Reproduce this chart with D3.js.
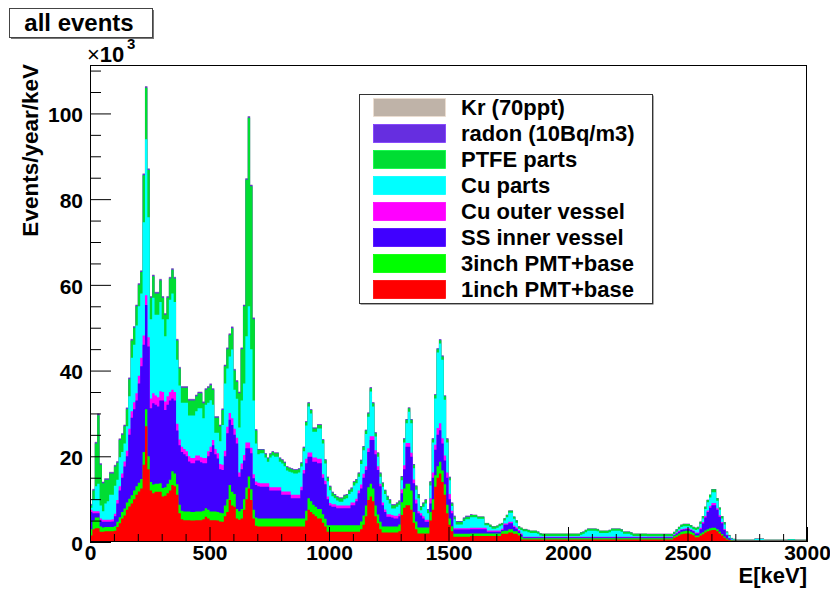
<!DOCTYPE html>
<html><head><meta charset="utf-8">
<script src="https://cdn.jsdelivr.net/npm/d3@7"></script>
<style>
body{margin:0;background:#fff}
text{font-family:"Liberation Sans",Arial,Helvetica,sans-serif;font-weight:bold;fill:#000}
</style>
</head><body>
<svg id="chart" width="830" height="589"></svg>
<script>
// ---------- DATA (Events/year/keV, in units of 10^3), 10 keV bins from 0 to 3000 keV ----------
const binWidthKeV = 10;
const pmt1 = [
1.5,3,3.2,3.2,2.4,2.4,2.5,2.5,2.5,2.5,
2.6,3.5,4.4,5.5,6.2,7.5,8.3,9,10,11,
11.8,12.5,18,27,17,12,11.4,11.7,11.7,11.7,
10.6,10.8,11.4,12,13.3,13,11,6.7,5.3,5.1,
5.1,5.1,5,5,5.1,5.1,5.1,5.3,5.9,5.5,
5.1,5.1,5.1,5,4.8,4.7,6,7,9.8,8.5,
8.2,5.5,5.2,5.5,7.5,10,12.5,9.8,5.5,3.8,
3.6,3.6,3.6,3.6,3.6,3.6,3.6,3.6,3.6,3.6,
3.6,3.6,3.6,3.6,3.6,3.6,3.6,3.6,3.6,3.6,
5,7.5,7,6.5,6,5.5,5.5,4.5,3.6,2.4,
2.4,2.4,2.4,2.4,2.4,2.4,2.4,2.4,2.4,2.4,
2.4,2.4,2.4,3,4,6,9.8,10.6,9.5,6,
4.4,3,2.2,2.2,2.2,2.2,2.2,2.2,2.2,2.5,
6.3,8,8.6,8.6,7.5,4.5,3,2,2,2,
2,2,5,7.5,12.9,15,16,14,11,6.7,
4,2.5,1.2,1.2,1.2,1.2,1.2,1.2,1.2,1.4,
1.4,1.4,1.4,1.4,1.4,1.4,1.4,1.4,1.4,1.4,
1.4,1.4,1.9,1.9,1.9,2.2,2.2,1.9,1.9,1.5,
0.6,0.6,0.6,0.6,0.6,0.6,0.6,0.6,0.6,0.6,
0.6,0.6,0.6,0.6,0.6,0.6,0.6,0.6,0.6,0.6,
0.6,0.6,0.6,0.6,0.6,0.6,0.6,0.6,0.6,0.6,
0.6,0.6,0.6,0.6,0.6,0.6,0.6,0.6,0.6,0.6,
0.6,0.6,0.6,0.6,0.6,0.6,0.6,0.6,0.6,0.6,
0.6,0.6,0.6,0.6,0.6,0.6,0.6,0.6,0.6,0.6,
0.6,0.6,0.6,0.6,1,1.2,1.5,1.8,1.9,2,
2,1.8,1.6,1.1,1.1,1.5,1.8,2.2,2.5,2.7,
2.8,2.8,2.5,2,1.5,1,0.6,0.4,0.3,0.3,
0.3,0.3,0.3,0.3,0.3,0.3,0.3,0.3,0.3,0.3,
0.3,0.3,0.3,0.3,0.3,0.3,0.3,0.3,0.3,0.3,
0.3,0.3,0.3,0.3,0.3,0.3,0.3,0.3,0.3,0.3];
const pmt3 = [
1.5,2,2.5,2.5,1.2,1,1,1,1,1,
1.1,1.2,1.4,1.5,1.6,1.7,1.8,1.9,2,2,
2,2.2,3,4,3,2,2,1.9,1.9,2,
2,2,2.2,2.5,3.2,3,2.5,2,2,2,
2,2,2,2,2,2,2,2,2,2,
2,2,2,2,2,2,2.5,3,3.5,3.2,
3,2.2,2,2.2,2.5,2.7,2.8,2.5,2,1.9,
1.9,1.9,1.9,1.9,1.9,1.9,1.9,1.9,1.9,1.9,
1.9,1.9,1.9,1.9,1.9,1.9,1.9,1.9,1.9,1.9,
2.3,2.7,2.5,2.2,2.2,2.2,2.2,2,1.8,1.5,
1.5,1.5,1.5,1.5,1.5,1.5,1.5,1.5,1.5,1.5,
1.5,1.5,1.5,1.8,2.2,2.5,3,3,3,2.5,
2,1.7,1.4,1.4,1.4,1.4,1.4,1.4,1.4,1.6,
3,4.5,5,5,4.5,2.5,1.8,1.4,1.4,1.4,
1.4,1.4,2,2.5,2.7,2.7,2.7,2.7,2.5,2,
1.5,1.2,0.7,0.7,0.7,0.7,0.7,0.7,0.7,0.6,
0.6,0.6,0.6,0.6,0.6,0.6,0.6,0.6,0.6,0.6,
0.6,0.6,0.6,0.7,0.7,0.8,0.8,0.6,0.6,0.6,
0.6,0.3,0.3,0.3,0.3,0.3,0.3,0.3,0.3,0.3,
0.3,0.3,0.3,0.3,0.3,0.3,0.3,0.3,0.3,0.3,
0.3,0.3,0.3,0.3,0.3,0.3,0.3,0.3,0.3,0.3,
0.3,0.3,0.3,0.3,0.3,0.3,0.3,0.3,0.3,0.3,
0.3,0.3,0.3,0.3,0.3,0.3,0.3,0.3,0.3,0.3,
0.3,0.3,0.3,0.3,0.3,0.3,0.3,0.3,0.3,0.3,
0.3,0.3,0.3,0.3,0.4,0.5,0.5,0.6,0.6,0.6,
0.6,0.6,0.5,0.4,0.4,0.5,0.5,0.5,0.5,0.5,
0.5,0.5,0.5,0.4,0.35,0.3,0.2,0.1,0.1,0.05,
0.05,0.05,0.05,0.05,0.05,0.05,0.05,0.05,0.05,0.05,
0.05,0.05,0.05,0.05,0.05,0.05,0.05,0.05,0.05,0.05,
0.05,0.05,0.05,0.05,0.05,0.05,0.05,0.05,0.05,0.05];
const ssInner = [
4,1.7,1,1,1.4,1.3,1.2,1.2,1.2,1.3,
2.3,4.3,6.2,8,9.8,10.8,14.9,18.1,19,20,
23.2,26.3,25,24.3,25.6,17.2,19,18.4,18,19.3,
20.4,18,18.4,18.5,17,17,12.5,13.9,13.7,13.4,
12.9,11.7,11.4,11.4,11.9,11.9,11.5,11.1,10.5,12.5,
13.9,15.5,13.4,12.5,10.2,10.1,11.5,15.4,15.2,15.6,
13.8,15.3,8,9.3,9,9.2,6.6,8.4,7.4,7.6,
7.5,7.4,7.4,7.4,7.4,6.5,6.5,6.5,6.5,6.5,
5.5,5.5,5.5,5.5,4.7,4.7,4.7,4.7,6.6,10.5,
11.1,9.7,10.4,10,10.5,10.7,10.7,8.5,8.1,6.1,
4.6,4.3,4.3,4,4,4,4,4,4,4.7,
4.7,5.6,7.5,7.7,8.8,8.3,8.2,10.2,11.3,12,
10.4,8.3,5,3.4,2.3,2.3,2.1,1.9,1.9,1.9,
2.1,4.5,8.6,8.6,7.9,6.7,4.2,3.3,2.8,2.1,
1.3,1.3,2,5,5.9,7.3,7.4,6.3,5.5,6.3,
4.5,3,1,1,1,1,1,1,1,1,
1,1,1,1,1,1,0.4,0.4,0.4,0.4,
0.4,0.4,0.3,1.4,1.4,1.4,1.4,1,0.6,0.4,
0.5,0.2,0.2,0.2,0.2,0.2,0.2,0.2,0.2,0.2,
0.2,0.2,0.2,0.2,0.2,0.2,0.2,0.2,0.2,0.2,
0.2,0.2,0.2,0.2,0.2,0.2,0.2,0.2,0.2,0.2,
0.2,0.2,0.2,0.2,0.2,0.2,0.2,0.2,0.2,0.2,
0.2,0.2,0.2,0.2,0.2,0.2,0.2,0.2,0.2,0.2,
0.2,0.2,0.2,0.2,0.2,0.2,0.2,0.2,0.2,0.2,
0.2,0.2,0.2,0.2,0.2,0.3,0.4,0.4,0.4,0.4,
0.4,0.4,0.4,0.5,0.5,1,2,3,4,4.8,
5.3,5.3,4.5,3.5,2.5,1.5,0.8,0.4,0.1,0.05,
0.03,0.03,0.03,0.03,0.03,0.03,0.03,0.03,0.03,0.03,
0.03,0.03,0.03,0.03,0.03,0.03,0.03,0.03,0.03,0.03,
0.03,0.03,0.03,0.03,0.03,0.03,0.03,0.03,0.03,0.03];
const cuOuter = [
0.5,0.5,0.5,0.5,0.5,0.5,0.5,0.5,0.5,0.5,
0.6,0.8,1,1,1.2,1.3,1.4,1.5,1.6,1.7,
1.8,2,2.2,2.3,2.2,2.3,2.3,2.2,2.2,2.2,
2,2,2,2,2,2,1.6,1.3,1.2,1.2,
1.2,1.2,1.2,1.2,1.2,1.2,1.2,1.2,1.2,1.2,
1.2,1.2,1.2,1.2,1.2,1.2,1.3,1.5,1.6,1.6,
1.4,1.3,1,1.3,1.3,1.3,1.3,1.3,0.9,0.8,
0.8,0.8,0.8,0.8,0.8,0.8,0.8,0.8,0.8,0.8,
0.8,0.8,0.8,0.8,0.8,0.8,0.8,0.8,0.8,0.8,
1,1,1,1,1,1,1,0.8,0.8,0.6,
0.6,0.6,0.6,0.6,0.6,0.6,0.6,0.6,0.6,0.6,
0.6,0.6,0.6,0.9,0.9,0.9,0.9,0.9,0.9,0.9,
0.9,0.6,0.6,0.6,0.6,0.6,0.6,0.6,0.6,0.6,
0.9,0.9,0.9,0.9,0.9,0.9,0.9,0.5,0.5,0.5,
0.5,0.5,1.2,1.2,1.2,1.6,1.6,1.2,1.2,1.2,
1.2,0.6,0.3,0.3,0.3,0.3,0.3,0.3,0.3,0.3,
0.3,0.3,0.3,0.3,0.3,0.3,0.3,0.3,0.3,0.3,
0.3,0.3,0.3,0.3,0.3,0.3,0.3,0.3,0.3,0.3,
0.3,0.15,0.15,0.15,0.15,0.15,0.15,0.15,0.15,0.15,
0.15,0.15,0.15,0.15,0.15,0.15,0.15,0.15,0.15,0.15,
0.15,0.15,0.15,0.15,0.15,0.15,0.15,0.15,0.15,0.15,
0.15,0.15,0.15,0.15,0.15,0.15,0.15,0.15,0.15,0.15,
0.15,0.15,0.15,0.15,0.15,0.15,0.15,0.15,0.15,0.15,
0.15,0.15,0.15,0.15,0.15,0.15,0.15,0.15,0.15,0.15,
0.15,0.15,0.15,0.15,0.15,0.2,0.2,0.2,0.2,0.2,
0.2,0.2,0.2,0.2,0.2,0.3,0.35,0.35,0.35,0.4,
0.5,0.5,0.4,0.35,0.3,0.25,0.1,0.05,0.05,0.02,
0.02,0.02,0.02,0.02,0.02,0.02,0.02,0.02,0.02,0.02,
0.02,0.02,0.02,0.02,0.02,0.02,0.02,0.02,0.02,0.02,
0.02,0.02,0.02,0.02,0.02,0.02,0.02,0.02,0.02,0.02];
const cuParts = [
0.5,2.8,5.8,6.4,3,2,3.8,4.3,5.8,5.7,
6.5,4.7,6.8,5,4.2,5.7,7.6,12.5,13.4,15.8,
16.2,15,26.4,36.4,28,18.5,22.3,18.8,19.2,20.8,
17,15.2,18,21.5,22.5,21,14.9,12.6,10.3,10.8,
11.3,9.5,9.9,9.9,10.3,11,11.4,9.3,12.4,11.3,
10.9,8.2,3.8,4.8,5.3,9.3,15.7,13.6,13.2,16,
9.1,9.1,10.5,14.7,16.7,24.8,31.8,23,17.2,8.9,
6.7,7,7,6,5,6.9,7.4,7.1,7.1,5.9,
6.5,5.9,4.9,4.6,5.2,5,5,5.2,4.7,4.4,
7.8,10.7,9.1,6,6,7.1,7.1,7.2,4,3.6,
3,1.9,1.4,1.2,0.9,0.9,1.5,1.7,2.7,2.5,
4,3.6,3.2,4.8,5.5,7.5,7.3,10.4,6.9,3.2,
2.2,1.6,3.7,3.6,3.3,2.5,1.5,1.7,2.1,2.1,
2.1,5.3,4.6,7.3,6.9,2.6,2.3,3,0.7,2.2,
3.8,1.5,3,7,10.8,17.6,18.6,18.3,13,7,
3.2,1.1,2.1,0.9,0.9,0.9,1.7,2.1,2.1,2.5,
2.5,2.5,2.1,2.1,2.1,0.6,1.2,0.8,0.4,0.4,
0.6,1,0.8,0.7,1.5,2.1,2.1,1.6,1.1,0.3,
0.8,1.25,1.25,1.05,0.85,0.85,0.85,0.65,0.25,0.15,
0.15,0.15,0.15,0.15,0.15,0.15,0.15,0.15,0.15,0.15,
0.15,0.15,0.15,0.15,0.15,0.45,0.65,1.05,1.35,1.35,
1.35,1.35,1.25,0.85,0.85,0.85,0.85,1.05,1.35,1.35,
1.35,1.35,1.15,0.65,0.65,0.65,0.45,0.15,0.15,0.15,
0.15,0.15,0.15,0.1,0.1,0.1,0.1,0.1,0.1,0.1,
0.1,0.1,0.1,0.1,0.1,0.2,0.4,0.5,0.6,0.5,
0.5,0.4,0.3,0.6,0.8,0.9,0.85,1.65,1.95,2,
2.5,2.5,1.7,1.25,0.85,1.05,0.5,0.45,0.2,0.18,
0.05,0.05,0.05,0.05,0.05,0.05,0.05,0.05,0.3,0.3,
0.3,0.3,0.05,0.05,0.05,0.05,0.05,0.05,0.05,0.05,
0.05,0.05,0.2,0.2,0.2,0.05,0.05,0.05,0.05,0.05];
const ptfe = [
0.5,2,10,16,9.5,6.5,5.5,5,5,5,
4.5,4,4,4,4,4,4,4,4,4.5,
5,5,11,12,11,5,5,5,5,5,
5,5,5,5,5.5,5.5,4.5,4,3.5,3.5,
3.5,3.5,3.5,3.5,3.5,3.5,3.5,3.5,3.5,3.5,
3.5,3.5,3.5,3.5,3.5,3.5,4,4.5,5,5,
4.5,4,8,12,18,36.5,44,38,19,3,
1,0.8,0.8,0.8,0.8,0.8,0.8,0.8,0.8,0.8,
0.8,0.8,0.8,0.8,0.8,0.8,0.8,0.8,0.8,0.8,
0.8,0.8,0.8,0.8,0.8,0.8,0.8,0.8,0.8,0.8,
0.8,0.8,0.8,0.8,0.8,0.8,0.8,0.8,0.8,0.8,
0.8,0.8,0.8,0.8,0.8,0.8,0.8,0.8,0.8,0.8,
0.8,0.8,0.8,0.8,0.8,0.8,0.8,0.8,0.8,0.8,
0.8,0.8,0.8,0.8,0.8,0.8,0.8,0.8,0.8,0.8,
0.8,0.8,0.8,0.8,0.8,0.8,0.8,0.8,0.8,0.8,
0.6,0.6,0.6,0.6,0.6,0.6,0.6,0.6,0.6,0.5,
0.5,0.5,0.5,0.5,0.5,0.5,0.5,0.5,0.5,0.5,
0.5,0.5,0.5,0.5,0.5,0.5,0.5,0.5,0.5,0.5,
0.5,0.5,0.5,0.5,0.5,0.5,0.5,0.5,0.5,0.5,
0.5,0.5,0.5,0.5,0.5,0.5,0.5,0.5,0.5,0.5,
0.5,0.5,0.5,0.5,0.5,0.5,0.5,0.5,0.5,0.5,
0.5,0.5,0.5,0.5,0.5,0.5,0.5,0.5,0.5,0.5,
0.5,0.5,0.5,0.5,0.5,0.5,0.5,0.5,0.5,0.5,
0.5,0.5,0.5,0.5,0.5,0.5,0.5,0.5,0.5,0.5,
0.5,0.5,0.5,0.5,0.5,0.5,0.5,0.5,0.5,0.5,
0.5,0.5,0.5,0.5,0.5,0.5,0.5,0.5,0.5,0.6,
0.7,0.7,0.6,0.5,0.5,0.5,0.2,0.2,0.15,0.1,
0.05,0.05,0.05,0.05,0.05,0.05,0.05,0.05,0.05,0.05,
0.05,0.05,0.05,0.05,0.05,0.05,0.05,0.05,0.05,0.05,
0.05,0.05,0.05,0.05,0.05,0.05,0.05,0.05,0.05,0.05];
const radon = [
0.3,0.3,0.3,0.3,0.3,0.3,0.3,0.3,0.3,0.3,
0.3,0.3,0.3,0.3,0.3,0.3,0.3,0.3,0.3,0.3,
0.3,0.3,0.3,0.3,0.3,0.3,0.3,0.3,0.3,0.3,
0.3,0.3,0.3,0.3,0.3,0.3,0.3,0.3,0.3,0.3,
0.3,0.3,0.3,0.3,0.3,0.3,0.3,0.3,0.3,0.3,
0.3,0.3,0.3,0.3,0.3,0.3,0.3,0.3,0.3,0.3,
0.3,0.3,0.3,0.3,0.3,0.3,0.3,0.3,0.3,0.3,
0.2,0.2,0.2,0.2,0.2,0.2,0.2,0.2,0.2,0.2,
0.2,0.2,0.2,0.2,0.2,0.2,0.2,0.2,0.2,0.2,
0.2,0.2,0.2,0.2,0.2,0.2,0.2,0.2,0.2,0.2,
0.2,0.2,0.2,0.2,0.2,0.2,0.2,0.2,0.2,0.2,
0.2,0.2,0.2,0.2,0.2,0.2,0.2,0.2,0.2,0.2,
0.2,0.2,0.2,0.2,0.2,0.2,0.2,0.2,0.2,0.2,
0.2,0.2,0.2,0.2,0.2,0.2,0.2,0.2,0.2,0.2,
0.2,0.2,0.2,0.2,0.2,0.2,0.2,0.2,0.2,0.2,
0.2,0.2,0.2,0.2,0.2,0.2,0.2,0.2,0.2,0.2,
0.05,0.05,0.05,0.05,0.05,0.05,0.05,0.05,0.05,0.05,
0.05,0.05,0.05,0.05,0.05,0.05,0.05,0.05,0.05,0.05,
0.05,0.05,0.05,0.05,0.05,0.05,0.05,0.05,0.05,0.05,
0.05,0.05,0.05,0.05,0.05,0.05,0.05,0.05,0.05,0.05,
0.05,0.05,0.05,0.05,0.05,0.05,0.05,0.05,0.05,0.05,
0.05,0.05,0.05,0.05,0.05,0.05,0.05,0.05,0.05,0.05,
0.05,0.05,0.05,0.05,0.05,0.05,0.05,0.05,0.05,0.05,
0.05,0.05,0.05,0.05,0.05,0.05,0.05,0.05,0.05,0.05,
0.05,0.05,0.05,0.05,0.05,0.05,0.05,0.05,0.05,0.05,
0.05,0.05,0.05,0.05,0.05,0.05,0.05,0.05,0.05,0.05,
0.05,0.05,0.05,0.05,0.05,0.05,0.05,0.05,0.05,0.05,
0.05,0.05,0.05,0.05,0.05,0.05,0.05,0.05,0.05,0.05,
0.05,0.05,0.05,0.05,0.05,0.05,0.05,0.05,0.05,0.05,
0.05,0.05,0.05,0.05,0.05,0.05,0.05,0.05,0.05,0.05];
const kr = [
0.1,0.1,0.1,0.1,0.1,0.1,0.1,0.1,0.1,0.1,
0.1,0.1,0.1,0.1,0.1,0.1,0.1,0.1,0.1,0.1,
0.1,0.1,0.1,0.1,0.1,0.1,0.1,0.1,0.1,0.1,
0.1,0.1,0.1,0.1,0.1,0.1,0.1,0.1,0.1,0.1,
0.1,0.1,0.1,0.1,0.1,0.1,0.1,0.1,0.1,0.1,
0.1,0.1,0.1,0.1,0.1,0.1,0.1,0.1,0.1,0.1,
0.1,0.1,0.1,0.1,0.1,0.1,0.1,0.1,0.1,0.02,
0.02,0.02,0.02,0.02,0.02,0.02,0.02,0.02,0.02,0.02,
0.02,0.02,0.02,0.02,0.02,0.02,0.02,0.02,0.02,0.02,
0.02,0.02,0.02,0.02,0.02,0.02,0.02,0.02,0.02,0.02,
0.02,0.02,0.02,0.02,0.02,0.02,0.02,0.02,0.02,0.02,
0.02,0.02,0.02,0.02,0.02,0.02,0.02,0.02,0.02,0.02,
0.02,0.02,0.02,0.02,0.02,0.02,0.02,0.02,0.02,0.02,
0.02,0.02,0.02,0.02,0.02,0.02,0.02,0.02,0.02,0.02,
0.02,0.02,0.02,0.02,0.02,0.02,0.02,0.02,0.02,0.02,
0.02,0.02,0.02,0.02,0.02,0.02,0.02,0.02,0.02,0.02,
0.02,0.02,0.02,0.02,0.02,0.02,0.02,0.02,0.02,0.02,
0.02,0.02,0.02,0.02,0.02,0.02,0.02,0.02,0.02,0.02,
0.02,0.02,0.02,0.02,0.02,0.02,0.02,0.02,0.02,0.02,
0.02,0.02,0.02,0.02,0.02,0.02,0.02,0.02,0.02,0.02,
0.02,0.02,0.02,0.02,0.02,0.02,0.02,0.02,0.02,0.02,
0.02,0.02,0.02,0.02,0.02,0.02,0.02,0.02,0.02,0.02,
0.02,0.02,0.02,0.02,0.02,0.02,0.02,0.02,0.02,0.02,
0.02,0.02,0.02,0.02,0.02,0.02,0.02,0.02,0.02,0.02,
0.02,0.02,0.02,0.02,0.02,0.02,0.02,0.02,0.02,0.02,
0.02,0.02,0.02,0.02,0.02,0.02,0.02,0.02,0.02,0.02,
0.02,0.02,0.02,0.02,0.02,0.02,0.02,0.02,0.02,0.02,
0.02,0.02,0.02,0.02,0.02,0.02,0.02,0.02,0.02,0.02,
0.02,0.02,0.02,0.02,0.02,0.02,0.02,0.02,0.02,0.02,
0.02,0.02,0.02,0.02,0.02,0.02,0.02,0.02,0.02,0.02];

// stacking order, bottom to top
const seriesKeys = ["pmt1","pmt3","ssInner","cuOuter","cuParts","ptfe","radon","kr"];
const seriesData = {pmt1, pmt3, ssInner, cuOuter, cuParts, ptfe, radon, kr};
const seriesLabels = {pmt1:"1inch PMT+base", pmt3:"3inch PMT+base", ssInner:"SS inner vessel",
  cuOuter:"Cu outer vessel", cuParts:"Cu parts", ptfe:"PTFE parts", radon:"radon (10Bq/m3)", kr:"Kr (70ppt)"};
const seriesColors = {pmt1:"#ff0000", pmt3:"#00ff00", ssInner:"#4000ff", cuOuter:"#ff00ff",
  cuParts:"#00ffff", ptfe:"#00dd33", radon:"#662ee0", kr:"#bfb3a8"};
const legendOrder = ["kr","radon","ptfe","cuParts","cuOuter","ssInner","pmt3","pmt1"];
const xMajorTicks = [0,500,1000,1500,2000,2500,3000];
const yMajorTicks = [0,20,40,60,80,100];
const titleText = "all events";
const xTitle = "E[keV]";
const yTitle = "Events/year/keV";

// ---------- DRAW ----------
const svg = d3.select("#chart");
const L = 90, R = 807, T = 65, B = 542;
const x = d3.scaleLinear().domain([0, 3000]).range([L, R]);
const y = d3.scaleLinear().domain([0, 111.3]).range([B, T]);

svg.append("rect").attr("width",830).attr("height",589).attr("fill","#fff");

const nBins = pmt1.length;
const rows = d3.range(nBins).map(i => {
  const r = {i};
  seriesKeys.forEach(k => r[k] = seriesData[k][i]);
  return r;
});
const stacked = d3.stack().keys(seriesKeys)(rows);

svg.append("clipPath").attr("id","clip").append("rect")
  .attr("x",L).attr("y",T).attr("width",R-L).attr("height",B-T);
const gHist = svg.append("g").attr("clip-path","url(#clip)");

const area = d3.area().x(d => d[0]).y0(y(0)).y1(d => d[1]);
// draw like ROOT THStack: cumulative histograms, top-most first
stacked.slice().reverse().forEach(layer => {
  const pts = [];
  layer.forEach((d, i) => {
    const top = y(d[1]);
    pts.push([x(i*binWidthKeV), top]);
    pts.push([x((i+1)*binWidthKeV), top]);
  });
  gHist.append("path").attr("d", area(pts))
    .attr("fill", seriesColors[layer.key]).attr("stroke","none");
});

// axes
const fontPx = 21;
const yMinor = d3.range(0, 111, 5).filter(v => v % 20 !== 0);
const yAxisMinor = d3.axisLeft(y).tickValues(yMinor).tickSize(-11).tickFormat("");
const yAxis = d3.axisLeft(y).tickValues(yMajorTicks).tickSize(-21).tickPadding(7).tickFormat(d3.format("d"));
const gy2 = svg.append("g").attr("transform",`translate(${L},0)`).call(yAxisMinor);
const gy = svg.append("g").attr("transform",`translate(${L},0)`).call(yAxis);
[gy, gy2].forEach(g => { g.select(".domain").remove(); g.selectAll("line").attr("stroke","#000"); });
gy.selectAll("text").style("font-size",fontPx+"px").attr("dy","0.4em");

const xMinor = d3.range(0, 3001, 100).filter(v => v % 500 !== 0);
const xAxisMinor = d3.axisBottom(x).tickValues(xMinor).tickSize(-8).tickFormat("");
const xAxis = d3.axisBottom(x).tickValues(xMajorTicks).tickSize(-15).tickPadding(3).tickFormat(d3.format("d"));
const gx2 = svg.append("g").attr("transform",`translate(0,${B})`).call(xAxisMinor);
const gx = svg.append("g").attr("transform",`translate(0,${B})`).call(xAxis);
[gx, gx2].forEach(g => { g.select(".domain").remove(); g.selectAll("line").attr("stroke","#000"); });
gx.selectAll("text").style("font-size",fontPx+"px");

// frame
svg.append("rect").attr("x",L+0.5).attr("y",T+0.5).attr("width",R-L-1).attr("height",B-T-1)
  .attr("fill","none").attr("stroke","#000").attr("stroke-width",1);

// axis titles
svg.append("text").attr("x",R).attr("y",583).attr("text-anchor","end")
  .style("font-size","22px").text(xTitle);
svg.append("text").attr("transform",`translate(38,${T-1}) rotate(-90)`).attr("text-anchor","end")
  .style("font-size","22.5px").text(yTitle);

// x10^3
const exp = svg.append("text").attr("x",87).attr("y",62).style("font-size","22px");
exp.append("tspan").style("font-weight","normal").text("\u00d7");
exp.append("tspan").text("10");
svg.append("text").attr("x",127).attr("y",49).style("font-size","15px").text("3");

// title box
svg.append("rect").attr("x",11).attr("y",10).attr("width",143).attr("height",29).attr("fill","#777");
svg.append("rect").attr("x",9.5).attr("y",8.5).attr("width",143).attr("height",29)
  .attr("fill","#fff").attr("stroke","#444").attr("stroke-width",1);
svg.append("text").attr("x",79).attr("y",31).attr("text-anchor","middle")
  .style("font-size","24px").text(titleText);

// legend
const lgX = 359, lgY = 94, lgW = 293, lgH = 209;
svg.append("rect").attr("x",lgX+1.5).attr("y",lgY+1.5).attr("width",lgW).attr("height",lgH).attr("fill","#555");
svg.append("rect").attr("x",lgX+0.5).attr("y",lgY+0.5).attr("width",lgW).attr("height",lgH)
  .attr("fill","#fff").attr("stroke","#333").attr("stroke-width",1);
legendOrder.forEach((k, i) => {
  const cy = 107.5 + i*26;
  svg.append("rect").attr("x",373.5).attr("y",cy-9).attr("width",72).attr("height",18)
    .attr("fill",seriesColors[k]).attr("stroke",d3.color(seriesColors[k]).brighter(0.6)).attr("stroke-width",0.8);
  svg.append("text").attr("x",461).attr("y",cy+7.5).style("font-size","22px").text(seriesLabels[k]);
});
</script>
</body></html>
